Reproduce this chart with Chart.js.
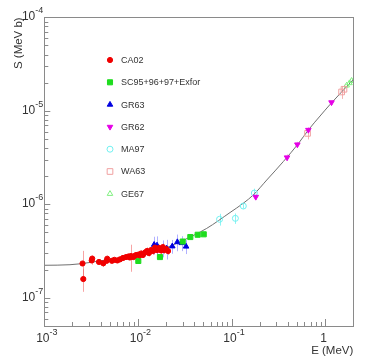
<!DOCTYPE html>
<html lang="en">

<head>
    <meta charset="UTF-8">
    <title>S factor</title>
    <script src="https://cdn.jsdelivr.net/npm/chart.js"></script>
    <style>
        body {
            margin: 0;
            background: #fff;
        }

        #chart {
            display: block;
        }
    </style>
</head>

<body>
    <canvas id="chart" width="372" height="364"></canvas>

    <script>
        // fit curve
        const fitE = [1e-3, 1.88e-3, 5.04e-3, 9.7e-3, 0.0187, 0.0361, 0.0543, 0.0964, 0.134, 0.171, 0.238, 0.357, 0.518, 0.662, 0.883, 1.13, 2.0];
        const fitS = [2.23e-7, 2.26e-7, 2.58e-7, 2.85e-7, 3.35e-7, 4.47e-7, 5.53e-7, 8.17e-7, 1.03e-6, 1.26e-6, 1.82e-6, 2.86e-6, 4.47e-6, 6.24e-6, 8.8e-6, 1.17e-5, 2.16e-5];

        // CA02
        const caE = [2.56e-3, 2.61e-3, 3.21e-3, 3.25e-3, 3.84e-3, 4.27e-3, 4.64e-3, 4.70e-3, 5.28e-3, 5.6e-3, 6.03e-3, 6.44e-3, 6.93e-3, 7.47e-3, 7.94e-3, 8.2e-3, 8.44e-3, 8.93e-3, 9.2e-3, 9.55e-3, 0.0101, 0.0104, 0.0108, 0.0113, 0.0119, 0.0125, 0.0131, 0.0138, 0.0145, 0.0152, 0.0160, 0.0168, 0.0177, 0.0185, 0.0190, 0.0200, 0.0210];
        const caS = [2.33e-7, 1.59e-7, 2.51e-7, 2.63e-7, 2.42e-7, 2.34e-7, 2.49e-7, 2.62e-7, 2.49e-7, 2.55e-7, 2.51e-7, 2.58e-7, 2.67e-7, 2.73e-7, 2.77e-7, 2.70e-7, 2.80e-7, 2.73e-7, 2.80e-7, 2.87e-7, 2.90e-7, 2.85e-7, 2.98e-7, 2.87e-7, 3.05e-7, 3.17e-7, 3.01e-7, 3.24e-7, 3.17e-7, 3.45e-7, 3.24e-7, 3.41e-7, 3.21e-7, 3.49e-7, 3.24e-7, 3.33e-7, 3.17e-7];
        const caErr = [0.85e-7, 0.43e-7, 0.25e-7, 0.2e-7, 0.15e-7, 0.2e-7, 0.15e-7, 0.2e-7, 0.1e-7, 0.12e-7, 0.1e-7, 0.12e-7, 0.15e-7, 0.15e-7, 0.15e-7, 0.15e-7, 0.9e-7, 0.2e-7, 0.2e-7, 0.2e-7, 0.2e-7, 0.2e-7, 0.25e-7, 0.2e-7, 0.25e-7, 0.3e-7, 0.25e-7, 0.3e-7, 0.3e-7, 0.35e-7, 0.3e-7, 0.3e-7, 0.3e-7, 0.35e-7, 0.3e-7, 0.3e-7, 0.3e-7];

        // SC95+96+97+Exfor
        const scE = [0.0101, 0.0172, 0.0301, 0.0363, 0.0435, 0.0505];
        const scS = [2.48e-7, 2.73e-7, 4.00e-7, 4.47e-7, 4.73e-7, 4.78e-7];
        const scErr = [0.1e-7, 0.1e-7, 0.2e-7, 0.2e-7, 0.25e-7, 0.25e-7];

        // GR63
        const gr63E = [0.0149, 0.0160, 0.0184, 0.0203, 0.0233, 0.0264, 0.0294, 0.0327];
        const gr63S = [3.70e-7, 3.64e-7, 3.41e-7, 3.37e-7, 3.56e-7, 3.95e-7, 3.86e-7, 3.54e-7];
        const gr63Err = [0.8e-7, 0.9e-7, 0.7e-7, 0.8e-7, 0.6e-7, 0.8e-7, 0.7e-7, 0.6e-7];

        // GR62
        const gr62E = [0.1815, 0.392, 0.505, 0.662, 1.17];
        const gr62S = [1.20e-6, 3.17e-6, 4.36e-6, 6.24e-6, 1.23e-5];
        const gr62Err = [0.08e-6, 0.25e-6, 0.3e-6, 0.45e-6, 0.6e-6];

        // MA97
        const maE = [0.0745, 0.110, 0.1337, 0.1753];
        const maS = [6.92e-7, 7.08e-7, 9.59e-7, 1.32e-6];
        const maErr = [1.0e-7, 0.9e-7, 0.6e-7, 1.5e-7];

        // WA63
        const waE = [0.649, 1.50, 1.59];
        const waS = [5.74e-6, 1.59e-5, 1.70e-5];
        const waErr = [0.8e-6, 2.5e-6, 2.0e-6];

        // GE67
        const geE = [1.70, 1.82, 1.92];
        const geS = [1.87e-5, 1.98e-5, 2.10e-5];
        const geErr = [1.0e-6, 1.0e-6, 1.0e-6];

        // axis labels: mantissa + exponent
        const xTicks = [1e-3, 1e-2, 1e-1, 1];
        const xTickExp = ['-3', '-2', '-1', ''];
        const yTicks = [1e-7, 1e-6, 1e-5, 1e-4];
        const yTickExp = ['-7', '-6', '-5', '-4'];

        const legendNames = ['CA02', 'SC95+96+97+Exfor', 'GR63', 'GR62', 'MA97', 'WA63', 'GE67'];

        function pts(xs, ys) {
            return xs.map((x, i) => ({ x: x, y: ys[i] }));
        }

        function series(label, xs, ys, errs, style, color, errColor, radius, filled, rot) {
            return {
                label: label,
                data: pts(xs, ys),
                errs: errs,
                errColor: errColor,
                pointStyle: style,
                pointRadius: radius,
                pointRotation: rot || 0,
                backgroundColor: filled ? color : 'rgba(0,0,0,0)',
                borderColor: color,
                borderWidth: 1,
                showLine: false
            };
        }

        const datasets = [
            series('CA02', caE, caS, caErr, 'circle', '#f00000', 'rgba(240,90,90,0.55)', 2.6, true),
            series('SC95+96+97+Exfor', scE, scS, scErr, 'rect', '#1edc1e', 'rgba(30,220,30,0.5)', 3.6, true),
            series('GR63', gr63E, gr63S, gr63Err, 'triangle', '#0000e0', 'rgba(100,100,255,0.5)', 3.2, true),
            series('GR62', gr62E, gr62S, gr62Err, 'triangle', '#e600e6', 'rgba(230,110,230,0.6)', 3.2, true, 180),
            series('MA97', maE, maS, maErr, 'circle', '#70f0f0', 'rgba(112,240,240,0.8)', 3, false),
            series('WA63', waE, waS, waErr, 'rect', '#f0a0a0', 'rgba(240,160,160,0.8)', 4, false),
            series('GE67', geE, geS, geErr, 'triangle', '#80f080', 'rgba(128,240,128,0.8)', 3.2, false),
            {
                label: 'fit',
                data: pts(fitE, fitS),
                showLine: true,
                pointRadius: 0,
                borderColor: '#707070',
                borderWidth: 1,
                cubicInterpolationMode: 'monotone'
            }
        ];

        const errorBars = {
            id: 'errorBars',
            beforeDatasetsDraw(chart) {
                const ctx = chart.ctx;
                const xs = chart.scales.x, ys = chart.scales.y;
                ctx.save();
                ctx.lineWidth = 1;
                chart.data.datasets.forEach(ds => {
                    if (!ds.errs) return;
                    ctx.strokeStyle = ds.errColor;
                    ds.data.forEach((p, i) => {
                        const px = Math.round(xs.getPixelForValue(p.x)) + 0.5;
                        ctx.beginPath();
                        ctx.moveTo(px, ys.getPixelForValue(p.y + ds.errs[i]));
                        ctx.lineTo(px, ys.getPixelForValue(Math.max(p.y - ds.errs[i], 1e-9)));
                        ctx.stroke();
                    });
                });
                ctx.restore();
            }
        };

        const frame = {
            id: 'frame',
            afterDraw(chart) {
                const ctx = chart.ctx;
                const a = chart.chartArea;
                const xs = chart.scales.x, ys = chart.scales.y;
                ctx.save();
                ctx.strokeStyle = '#8a8a8a';
                ctx.lineWidth = 1;
                ctx.strokeRect(Math.round(a.left) + 0.5, Math.round(a.top) + 0.5, Math.round(a.right - a.left), Math.round(a.bottom - a.top));

                // tick marks, inside the frame
                ctx.beginPath();
                for (let d = -3; d <= 0; d++) {
                    for (let m = 1; m <= 9; m++) {
                        const v = m * Math.pow(10, d);
                        if (v > xs.max) break;
                        const px = Math.round(xs.getPixelForValue(v)) + 0.5;
                        ctx.moveTo(px, a.bottom);
                        ctx.lineTo(px, a.bottom - (m === 1 ? 7 : 4));
                    }
                }
                for (let d = -8; d <= -5; d++) {
                    for (let m = 1; m <= 9; m++) {
                        const v = m * Math.pow(10, d);
                        if (v < ys.min) continue;
                        const py = Math.round(ys.getPixelForValue(v)) + 0.5;
                        ctx.moveTo(a.left, py);
                        ctx.lineTo(a.left + (m === 1 ? 6 : 4), py);
                    }
                }
                ctx.stroke();

                // tick labels
                ctx.fillStyle = '#333';
                ctx.textBaseline = 'alphabetic';
                xTicks.forEach((v, i) => {
                    const px = xs.getPixelForValue(v);
                    const base = xTickExp[i] ? '10' : '1';
                    ctx.font = '12px "Liberation Sans", Arial, sans-serif';
                    ctx.textAlign = 'center';
                    ctx.fillText(base, px - 1.5, a.bottom + 16);
                    if (xTickExp[i]) {
                        const w = ctx.measureText(base).width;
                        ctx.font = '9px "Liberation Sans", Arial, sans-serif';
                        ctx.textAlign = 'left';
                        ctx.fillText(xTickExp[i], px - 1.5 + w / 2, a.bottom + 9);
                    }
                });
                yTicks.forEach((v, i) => {
                    const py = ys.getPixelForValue(v);
                    ctx.font = '9px "Liberation Sans", Arial, sans-serif';
                    ctx.textAlign = 'right';
                    const ew = ctx.measureText(yTickExp[i]).width;
                    ctx.fillText(yTickExp[i], a.left - 1, py - 4);
                    ctx.font = '12px "Liberation Sans", Arial, sans-serif';
                    ctx.fillText('10', a.left - 1 - ew, py + 3);
                });

                // axis titles
                ctx.font = '11.5px "Liberation Sans", Arial, sans-serif';
                ctx.textAlign = 'right';
                ctx.fillText('E (MeV)', a.right, a.bottom + 28);
                ctx.save();
                ctx.translate(22, a.top);
                ctx.rotate(-Math.PI / 2);
                ctx.fillText('S (MeV b)', 0, 0);
                ctx.restore();

                // legend
                const lx = 110, ly = 60, step = 22.3;
                ctx.font = '9px "Liberation Sans", Arial, sans-serif';
                ctx.textAlign = 'left';
                ctx.textBaseline = 'middle';
                legendNames.forEach((name, i) => {
                    const ds = chart.data.datasets[i];
                    const y = ly + i * step;
                    ctx.fillStyle = ds.backgroundColor;
                    ctx.strokeStyle = ds.borderColor;
                    Chart.helpers.drawPoint(ctx, {
                        pointStyle: ds.pointStyle,
                        radius: ds.pointRadius,
                        rotation: ds.pointRotation,
                        borderWidth: 1
                    }, lx, y);
                    ctx.fillStyle = '#333';
                    ctx.fillText(name, lx + 11, y + 0.5);
                });
                ctx.restore();
            }
        };

        new Chart(document.getElementById('chart'), {
            type: 'scatter',
            data: { datasets: datasets },
            options: {
                responsive: false,
                animation: false,
                devicePixelRatio: 1,
                layout: {
                    padding: { left: 44.3, top: 17.3, right: 18.7, bottom: 38 }
                },
                plugins: {
                    legend: { display: false },
                    tooltip: { enabled: false }
                },
                scales: {
                    x: { type: 'logarithmic', min: 1e-3, max: 2, display: false },
                    y: { type: 'logarithmic', min: 5e-8, max: 1e-4, display: false }
                }
            },
            plugins: [errorBars, frame]
        });
    </script>
</body>

</html>
